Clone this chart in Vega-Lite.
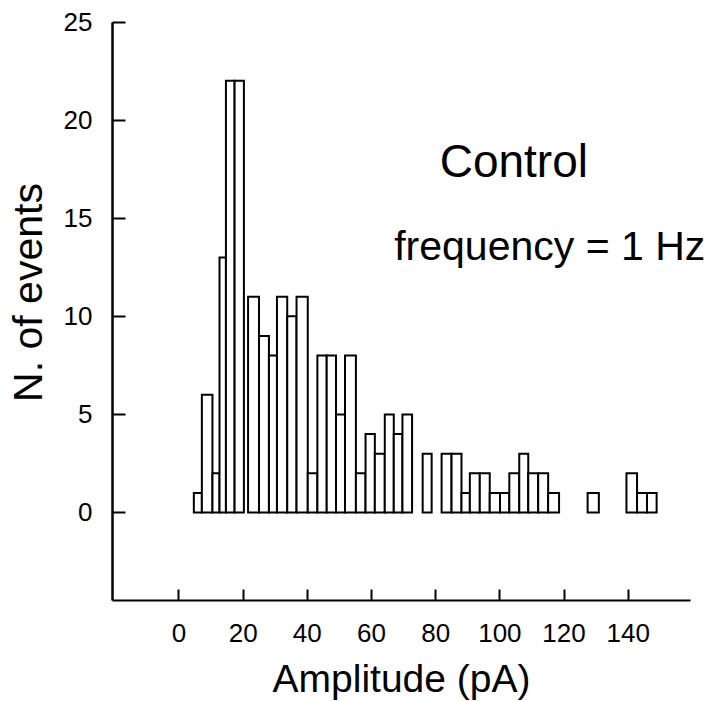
{
  "$schema": "https://vega.github.io/schema/vega-lite/v6.json",
  "width": 578,
  "height": 578,
  "autosize": {"type": "none"},
  "padding": {"left": 112, "top": 22, "right": 31, "bottom": 101},
  "background": "white",
  "config": {"view": {"stroke": null}, "font": "Liberation Sans"},
  "data": {"values": [
    {"start": 4.8, "end": 7.3, "count": 1},
    {"start": 7.3, "end": 10.6, "count": 6},
    {"start": 10.6, "end": 12.8, "count": 2},
    {"start": 12.8, "end": 14.8, "count": 13},
    {"start": 14.8, "end": 17.5, "count": 22},
    {"start": 17.5, "end": 20.4, "count": 22},
    {"start": 21.7, "end": 25.1, "count": 11},
    {"start": 25.1, "end": 28.2, "count": 9},
    {"start": 28.2, "end": 30.7, "count": 8},
    {"start": 30.7, "end": 33.9, "count": 11},
    {"start": 33.9, "end": 36.8, "count": 10},
    {"start": 36.8, "end": 40.3, "count": 11},
    {"start": 40.3, "end": 43.3, "count": 2},
    {"start": 43.3, "end": 46.2, "count": 8},
    {"start": 46.2, "end": 49.1, "count": 8},
    {"start": 49.1, "end": 51.9, "count": 5},
    {"start": 51.9, "end": 55.3, "count": 8},
    {"start": 55.3, "end": 58.3, "count": 2},
    {"start": 58.3, "end": 61.2, "count": 4},
    {"start": 61.2, "end": 64.3, "count": 3},
    {"start": 64.3, "end": 67.1, "count": 5},
    {"start": 67.1, "end": 69.8, "count": 4},
    {"start": 69.8, "end": 72.8, "count": 5},
    {"start": 76.1, "end": 78.9, "count": 3},
    {"start": 82.0, "end": 85.1, "count": 3},
    {"start": 85.1, "end": 88.2, "count": 3},
    {"start": 88.2, "end": 90.8, "count": 1},
    {"start": 90.8, "end": 93.9, "count": 2},
    {"start": 93.9, "end": 97.0, "count": 2},
    {"start": 97.0, "end": 100.2, "count": 1},
    {"start": 100.2, "end": 103.1, "count": 1},
    {"start": 103.1, "end": 106.2, "count": 2},
    {"start": 106.2, "end": 109.0, "count": 3},
    {"start": 109.0, "end": 112.1, "count": 2},
    {"start": 112.1, "end": 115.2, "count": 2},
    {"start": 115.2, "end": 118.6, "count": 1},
    {"start": 127.5, "end": 131.0, "count": 1},
    {"start": 139.6, "end": 142.9, "count": 2},
    {"start": 142.9, "end": 146.0, "count": 1},
    {"start": 146.0, "end": 149.0, "count": 1}
  ]},
  "layer": [
    {
      "mark": {"type": "bar", "fill": "white", "stroke": "black", "strokeWidth": 2},
      "encoding": {
        "x": {
          "field": "start",
          "type": "quantitative",
          "scale": {"domain": [-20.7, 159.4], "nice": false, "zero": false},
          "axis": {
            "values": [0, 20, 40, 60, 80, 100, 120, 140],
            "grid": false,
            "tickSize": -11,
            "tickWidth": 2,
            "tickColor": "black",
            "domainColor": "black",
            "domainWidth": 2,
            "labelFont": "Liberation Sans",
            "labelFontSize": 26,
            "labelColor": "black",
            "labelPadding": 31,
            "title": "Amplitude (pA)",
            "titleFont": "Liberation Sans",
            "titleFontSize": 39,
            "titleFontWeight": "normal",
            "titleColor": "black",
            "titlePadding": 14
          }
        },
        "x2": {"field": "end"},
        "y": {
          "field": "count",
          "type": "quantitative",
          "scale": {"domain": [-4.46, 25], "nice": false, "zero": false},
          "axis": {
            "values": [0, 5, 10, 15, 20, 25],
            "grid": false,
            "tickSize": -13,
            "tickWidth": 2,
            "tickColor": "black",
            "domainColor": "black",
            "domainWidth": 2.5,
            "labelFont": "Liberation Sans",
            "labelFontSize": 26,
            "labelColor": "black",
            "labelPadding": 33,
            "title": "N. of events",
            "titleFont": "Liberation Sans",
            "titleFontSize": 41,
            "titleFontWeight": "normal",
            "titleColor": "black",
            "titlePadding": 13,
            "titleY": 270
          }
        },
        "y2": {"datum": 0}
      }
    },
    {
      "data": {"values": [{"label": "Control"}]},
      "mark": {"type": "text", "fontSize": 46, "font": "Liberation Sans", "color": "black", "align": "center", "baseline": "alphabetic"},
      "encoding": {
        "x": {"datum": 104.5, "type": "quantitative"},
        "y": {"datum": 17.1, "type": "quantitative"},
        "text": {"field": "label"}
      }
    },
    {
      "data": {"values": [{"label": "frequency = 1 Hz"}]},
      "mark": {"type": "text", "fontSize": 41, "font": "Liberation Sans", "color": "black", "align": "center", "baseline": "alphabetic"},
      "encoding": {
        "x": {"datum": 115.7, "type": "quantitative"},
        "y": {"datum": 12.87, "type": "quantitative"},
        "text": {"field": "label"}
      }
    }
  ]
}
